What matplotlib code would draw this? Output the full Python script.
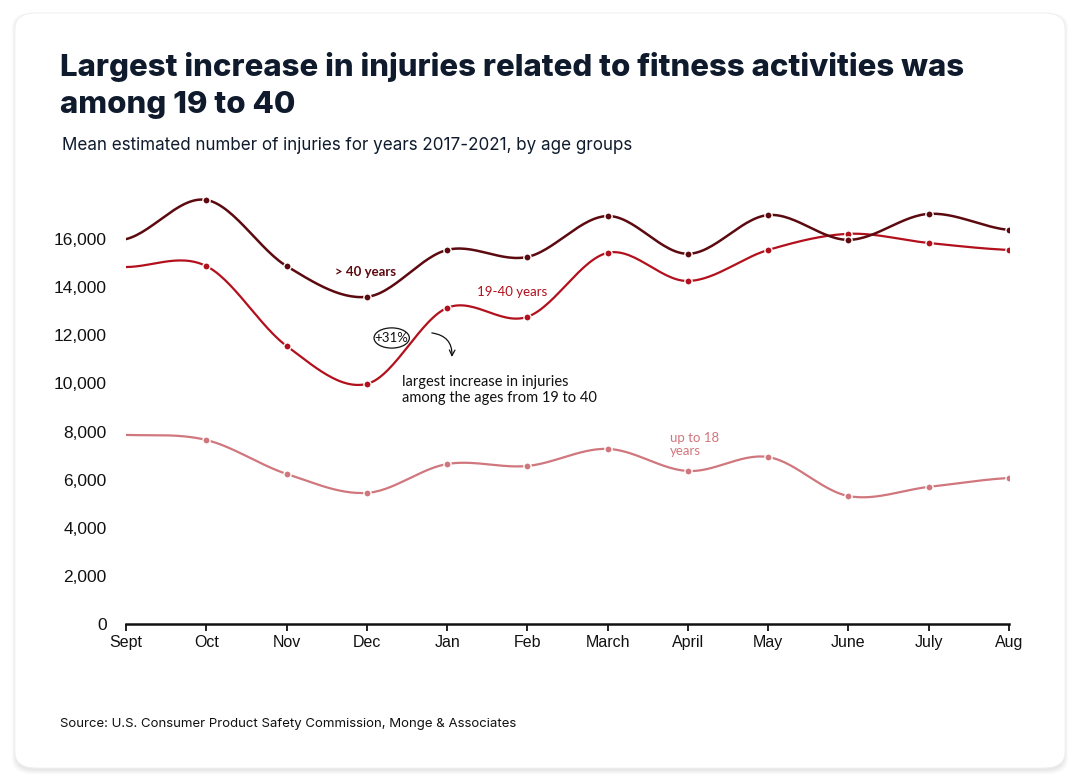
import numpy as np
import matplotlib
matplotlib.use("Agg")
import matplotlib.pyplot as plt
from matplotlib.patches import FancyBboxPatch, Ellipse

# data
months = ['Sept', 'Oct', 'Nov', 'Dec', 'Jan', 'Feb', 'March', 'April', 'May', 'June', 'July', 'Aug']
over_40 = [16000, 17630, 14880, 13600, 15550, 15260, 16960, 15390, 17000, 15970, 17050, 16380]
age_19_40 = [14840, 14880, 11560, 9980, 13140, 12770, 15430, 14260, 15550, 16220, 15840, 15550]
up_to_18 = [7860, 7650, 6240, 5450, 6650, 6570, 7280, 6360, 6940, 5320, 5700, 6070]
yticks = [0, 2000, 4000, 6000, 8000, 10000, 12000, 14000, 16000]

c_dark = '#5c0a10'
c_red = '#b2101c'
c_pink = '#d0777e'
c_title = '#0f1b2d'


def smooth(y, n=30):
    # catmull-rom style curve through the points (like d3 curveCardinal)
    y = np.asarray(y, float)
    m = len(y)
    t = np.zeros(m)
    t[1:-1] = (y[2:] - y[:-2]) / 2
    t[0] = (y[1] - y[0]) / 2
    t[-1] = (y[-1] - y[-2]) / 2
    xs, ys = [], []
    for i in range(m - 1):
        s = np.linspace(0, 1, n, endpoint=(i == m - 2))
        h00 = 2 * s**3 - 3 * s**2 + 1
        h10 = s**3 - 2 * s**2 + s
        h01 = -2 * s**3 + 3 * s**2
        h11 = s**3 - s**2
        xs.append(i + s)
        ys.append(h00 * y[i] + h10 * t[i] + h01 * y[i + 1] + h11 * t[i + 1])
    return np.concatenate(xs), np.concatenate(ys)


fig = plt.figure(figsize=(10.8, 7.81), dpi=100)
fig.patch.set_facecolor('white')

# card with soft shadow
for k, a in enumerate([0.035, 0.03, 0.025]):
    sh = FancyBboxPatch((15 / 1080 - k * 0.0015, 1 - 771 / 781 - k * 0.002),
                        1050 / 1080 + k * 0.003, 757 / 781 + k * 0.003,
                        boxstyle="round,pad=0,rounding_size=0.02",
                        transform=fig.transFigure, facecolor='#000000', alpha=a,
                        edgecolor='none', zorder=0)
    fig.patches.append(sh)
card = FancyBboxPatch((15 / 1080, 1 - 768 / 781), 1050 / 1080, 755 / 781,
                      boxstyle="round,pad=0,rounding_size=0.02",
                      transform=fig.transFigure, facecolor='white',
                      edgecolor='#efefef', linewidth=0.6, zorder=1)
fig.patches.append(card)

ax = fig.add_axes([126 / 1080, 157 / 781, 883 / 1080, 0.5544])
ax.set_facecolor('none')
ax.set_zorder(2)

x = np.arange(len(months))
for vals, col, lw in [(up_to_18, c_pink, 1.6), (age_19_40, c_red, 1.6), (over_40, c_dark, 1.8)]:
    sx, sy = smooth(vals)
    ax.plot(sx, sy, color=col, linewidth=lw, solid_capstyle='round', zorder=3)
    ax.plot(x[1:], vals[1:], 'o', color=col, markersize=5.2,
            markeredgecolor='white', markeredgewidth=1.0, zorder=4)

ax.set_xlim(0, len(months) - 1)
ax.set_ylim(0, 18000)
ax.set_xticks(x)
ax.set_xticklabels(months, fontsize=11.5, family='Liberation Sans', color='#111111')
ax.set_yticks(yticks)
ax.set_yticklabels([f'{v:,}' for v in yticks], fontsize=12.5, family='Liberation Sans', color='#111111')
for s in ['top', 'right', 'left']:
    ax.spines[s].set_visible(False)
ax.spines['bottom'].set_linewidth(1.8)
ax.spines['bottom'].set_color('#111111')
ax.tick_params(axis='y', length=0, pad=14)
ax.tick_params(axis='x', length=5, width=1.3, color='#111111', pad=3)

# annotations
ann = dict(family='Lato', fontsize=9.5)
ax.text(2.60, 14640, '> 40 years', color=c_dark, ha='left', va='center', fontweight='bold', **ann)
ax.text(4.37, 13800, '19-40 years', color=c_red, ha='left', va='center', **ann)
ax.text(6.78, 7460, 'up to 18\nyears', color=c_pink, ha='left', va='center', linespacing=1.1, **ann)
ax.text(3.44, 9730, 'largest increase in injuries\namong the ages from 19 to 40', color='#111111',
        ha='left', va='center', family='Lato', fontsize=10.5, linespacing=1.25)
ax.add_patch(Ellipse((3.31, 11890), 0.44, 840, facecolor='white', edgecolor='#111111',
                     linewidth=0.9, zorder=5))
ax.text(3.31, 11890, '+31%', color='#111111', ha='center', va='center', family='Lato',
        fontsize=9.5, zorder=6)
ax.annotate('', xy=(4.06, 11100), xytext=(3.81, 12100),
            arrowprops=dict(arrowstyle='->', color='#111111', lw=0.9,
                            connectionstyle='arc3,rad=-0.45', shrinkA=0, shrinkB=0))

# titles and source
tkw = dict(family='Inter', fontweight='heavy', fontsize=22.45, color=c_title, va='baseline', zorder=5)
fig.text(60 / 1080, 1 - 76 / 781, 'Largest increase in injuries related to fitness activities was', **tkw)
fig.text(60 / 1080, 1 - 113 / 781, 'among 19 to 40', **tkw)
fig.text(62 / 1080, 1 - 150 / 781, 'Mean estimated number of injuries for years 2017-2021, by age groups',
         family='Inter', fontsize=12.25, color=c_title, va='baseline', zorder=5)
fig.text(60 / 1080, 1 - 727 / 781, 'Source: U.S. Consumer Product Safety Commission, Monge & Associates',
         family='Inter', fontsize=9.5, color='#111111', va='baseline', zorder=5)

fig.savefig('out.png', dpi=100, facecolor=fig.get_facecolor())
